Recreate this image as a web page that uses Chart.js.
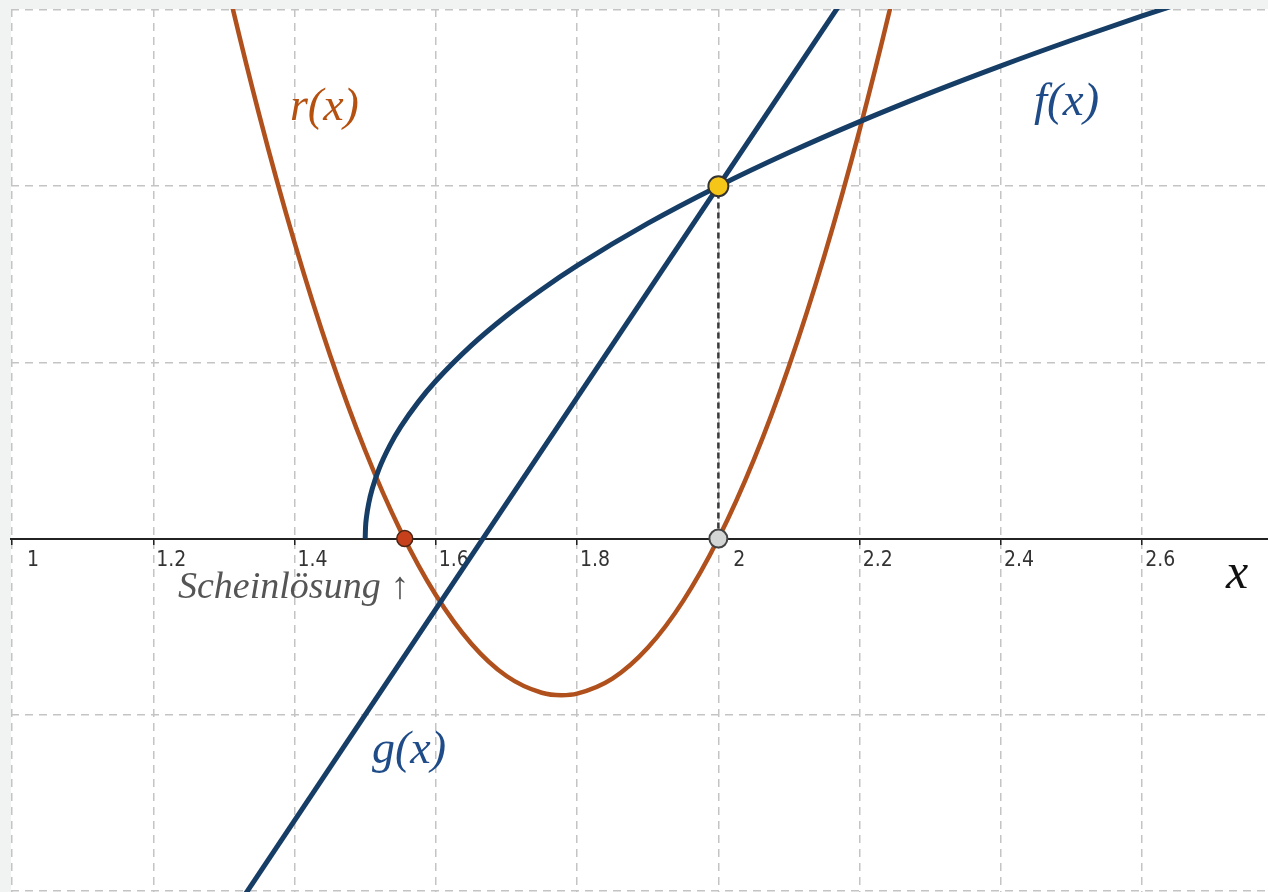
<!DOCTYPE html>
<html>
<head>
<meta charset="utf-8">
<script src="https://cdn.jsdelivr.net/npm/chart.js@4.4.1/dist/chart.umd.min.js"></script>
<style>
  html, body { margin: 0; padding: 0; background: #f1f3f3; }
  #wrap { width: 1268px; height: 892px; }
</style>
</head>
<body>
<div id="wrap"><canvas id="c" width="1268" height="892"></canvas></div>
<script>
// ---- data ----
const xTickValues = [1, 1.2, 1.4, 1.6, 1.8, 2, 2.2, 2.4, 2.6];
const xTickLabels = ['1', '1.2', '1.4', '1.6', '1.8', '2', '2.2', '2.4', '2.6'];
const yGridValues = [-1, -0.5, 0, 0.5, 1, 1.5];

// f(x) curve samples
const fX = [1.5, 1.5005, 1.502, 1.505, 1.51, 1.52, 1.535, 1.55, 1.575, 1.6, 1.65, 1.7, 1.75, 1.8, 1.9, 2.0, 2.1, 2.2, 2.3, 2.4, 2.5, 2.6, 2.7, 2.8];
const fY = [0, 0.0316, 0.0632, 0.1, 0.1414, 0.2, 0.2646, 0.3162, 0.3873, 0.4472, 0.5477, 0.6325, 0.7071, 0.7746, 0.8944, 1.0, 1.0954, 1.1832, 1.2649, 1.3416, 1.4142, 1.4832, 1.5492, 1.6125];

// g(x) line samples
const gX = [1.3, 2.2];
const gY = [-1.1, 1.6];

// r(x) curve samples
const rX = [1.25, 1.3, 1.35, 1.4, 1.45, 1.5, 1.55, 1.6, 1.65, 1.7, 1.75, 1.778, 1.8, 1.85, 1.9, 1.95, 2.0, 2.05, 2.1, 2.15, 2.2, 2.25, 2.3];
const rY = [2.0625, 1.61, 1.2025, 0.84, 0.5225, 0.25, 0.0225, -0.16, -0.2975, -0.39, -0.4375, -0.4444, -0.44, -0.3975, -0.31, -0.1775, 0, 0.2225, 0.49, 0.8025, 1.16, 1.5625, 2.01];

// special points
const solutionPoint = { x: 2, y: 1 };
const rootPoint = { x: 2, y: 0 };
const spuriousPoint = { x: 1.556, y: 0 };
const dropX = [2, 2];
const dropY = [0, 1];

// text annotations (anchor in data units)
const annotTexts = ['r(x)', 'f(x)', 'g(x)', 'Scheinlösung ↑', 'x'];
const annotX = [1.3935, 2.4468, 1.5096, 1.2350, 2.7186];
const annotY = [1.1879, 1.2020, -0.6368, -0.1686, -0.1402];

// ---- styling ----
const BLUE = '#153d66';
const BROWN = '#b0501c';
const annotColors = ['#b5500f', '#1f4c88', '#1f4c88', '#555555', '#111111'];
const annotSizes = [46, 47, 46, 38, 50];

const toPts = (xs, ys) => xs.map((x, i) => ({ x: x, y: ys[i] }));

const bgPlugin = {
  id: 'bg',
  beforeDraw(chart) {
    const { ctx, chartArea: a } = chart;
    ctx.save();
    ctx.fillStyle = '#f1f3f3';
    ctx.fillRect(0, 0, chart.width, chart.height);
    ctx.fillStyle = '#ffffff';
    ctx.fillRect(a.left, a.top, a.right - a.left, a.bottom - a.top);
    ctx.restore();
  }
};

const textPlugin = {
  id: 'texts',
  afterDraw(chart) {
    const { ctx } = chart;
    const xs = chart.scales.x, ys = chart.scales.y;
    ctx.save();
    ctx.textBaseline = 'alphabetic';
    ctx.textAlign = 'left';
    annotTexts.forEach((t, i) => {
      ctx.font = 'italic ' + annotSizes[i] + 'px "Liberation Serif", "Times New Roman", serif';
      ctx.fillStyle = annotColors[i];
      ctx.fillText(t, xs.getPixelForValue(annotX[i]), ys.getPixelForValue(annotY[i]));
    });
    ctx.restore();
  }
};

new Chart(document.getElementById('c'), {
  type: 'scatter',
  data: {
    datasets: [
      { data: [solutionPoint], pointRadius: 10, pointBackgroundColor: '#f5c518', pointBorderColor: '#333333', pointBorderWidth: 2, showLine: false },
      { data: [rootPoint], pointRadius: 9, pointBackgroundColor: '#d4d6d6', pointBorderColor: '#444444', pointBorderWidth: 2, showLine: false },
      { data: [spuriousPoint], pointRadius: 8, pointBackgroundColor: '#c7401c', pointBorderColor: '#4a2515', pointBorderWidth: 1.5, showLine: false },
      { data: toPts(dropX, dropY), showLine: true, pointRadius: 0, borderColor: '#3a3a3a', borderWidth: 2.5, borderDash: [6, 4] },
      { data: toPts(fX, fY), showLine: true, pointRadius: 0, borderColor: BLUE, borderWidth: 5, cubicInterpolationMode: 'monotone' },
      { data: toPts(gX, gY), showLine: true, pointRadius: 0, borderColor: BLUE, borderWidth: 5 },
      { data: toPts(rX, rY), showLine: true, pointRadius: 0, borderColor: BROWN, borderWidth: 4.5, cubicInterpolationMode: 'monotone' }
    ]
  },
  options: {
    responsive: false,
    animation: false,
    devicePixelRatio: 1,
    layout: { autoPadding: false, padding: { left: 11, top: 9, right: 0, bottom: 0 } },
    plugins: { legend: { display: false }, tooltip: { enabled: false } },
    scales: {
      x: {
        type: 'linear',
        min: 0.99858,
        max: 2.7781,
        position: { y: 0 },
        afterBuildTicks(scale) { scale.ticks = xTickValues.map(v => ({ value: v })); },
        grid: {
          color: '#c4c4c4', lineWidth: 1.5,
          drawTicks: true, tickLength: 5, tickColor: '#222222', tickWidth: 1.5, tickBorderDash: []
        },
        border: { display: true, color: '#222222', width: 2, dash: [8, 6] },
        ticks: {
          align: 'start',
          labelOffset: 3,
          padding: 4,
          color: '#333333',
          font: { family: '"DejaVu Sans Condensed", "Liberation Sans", sans-serif', size: 21 },
          callback(value) {
            const i = xTickValues.indexOf(value);
            const lab = i >= 0 ? xTickLabels[i] : '';
            return Number.isInteger(value) ? '  ' + lab : lab;
          }
        }
      },
      y: {
        type: 'linear',
        min: -1.00286,
        max: 1.50284,
        position: 'left',
        afterBuildTicks(scale) { scale.ticks = yGridValues.map(v => ({ value: v })); },
        grid: { color: '#c4c4c4', lineWidth: 1.5, drawTicks: false },
        border: { display: false, dash: [8, 6] },
        ticks: { display: false }
      }
    }
  },
  plugins: [bgPlugin, textPlugin]
});
</script>
</body>
</html>
